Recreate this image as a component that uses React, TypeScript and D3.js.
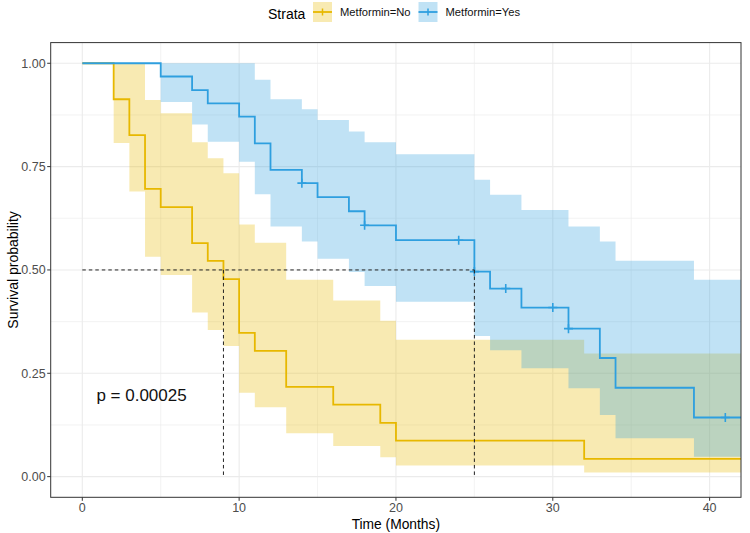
import React from "react";
import * as d3 from "d3";

// ---- Data ----
const strata = ["Metformin=No", "Metformin=Yes"];
const colors = ["#E7B800", "#2E9FDF"];

const noTimes = [0, 2, 3, 4, 5, 7, 8, 9, 10, 11, 13, 16, 19, 20, 32];
const noSurv = [1, 0.913, 0.826, 0.696, 0.652, 0.565, 0.522, 0.478, 0.348, 0.304, 0.217, 0.174, 0.13, 0.087, 0.043];
const noUpper = [1, 1, 1, 0.911, 0.879, 0.809, 0.77, 0.734, 0.61, 0.566, 0.476, 0.426, 0.377, 0.331, 0.298];
const noLower = [1, 0.807, 0.69, 0.532, 0.488, 0.397, 0.355, 0.316, 0.203, 0.168, 0.105, 0.074, 0.047, 0.027, 0.01];

const yesTimes = [0, 5, 7, 8, 10, 11, 12, 14, 15, 17, 18, 20, 25, 26, 28, 31, 33, 34, 39];
const yesSurv = [1, 0.968, 0.935, 0.903, 0.871, 0.806, 0.742, 0.71, 0.676, 0.642, 0.608, 0.572, 0.496, 0.455, 0.409, 0.358, 0.287, 0.215, 0.143];
const yesUpper = [1, 1, 1, 1, 1, 0.96, 0.913, 0.889, 0.863, 0.835, 0.809, 0.78, 0.718, 0.682, 0.645, 0.605, 0.569, 0.522, 0.476];
const yesLower = [1, 0.906, 0.852, 0.81, 0.762, 0.683, 0.605, 0.569, 0.527, 0.495, 0.461, 0.423, 0.34, 0.306, 0.262, 0.214, 0.149, 0.093, 0.048];

const yesCensorTimes = [14, 18, 24, 25, 27, 30, 31, 41];
const yesCensorSurv = [0.71, 0.608, 0.572, 0.496, 0.455, 0.409, 0.358, 0.143];

const medianTimes = [9, 25];
const endTime = 42;
const xTicks = [0, 10, 20, 30, 40];
const xMinor = [5, 15, 25, 35];
const yTicks = [0, 0.25, 0.5, 0.75, 1];
const yMinor = [0.125, 0.375, 0.625, 0.875];
const pValueLabel = "p = 0.00025";

// ---- Layout ----
const W = 750;
const H = 533;
const PL = 50.7, PR = 741, PT = 42.6, PB = 497.3;
const FONT = "'Liberation Sans', Arial, Helvetica, sans-serif";

type Pt = { t: number; s: number; lo: number; hi: number };

function build(times: number[], surv: number[], lo: number[], hi: number[]): Pt[] {
  const pts = times.map((t, i) => ({ t, s: surv[i], lo: lo[i], hi: hi[i] }));
  const last = pts[pts.length - 1];
  pts.push({ ...last, t: endTime });
  return pts;
}

export default function App() {
  const x = d3.scaleLinear().domain([-2.015, 42.0]).range([PL, PR]);
  const y = d3.scaleLinear().domain([-0.05, 1.05]).range([PB, PT]);

  const series = [
    build(noTimes, noSurv, noLower, noUpper),
    build(yesTimes, yesSurv, yesLower, yesUpper),
  ];

  const line = d3.line<Pt>().x((d) => x(d.t)).y((d) => y(d.s)).curve(d3.curveStepAfter);
  const area = d3
    .area<Pt>()
    .x((d) => x(d.t))
    .y0((d) => y(d.lo))
    .y1((d) => y(d.hi))
    .curve(d3.curveStepAfter);

  const grid = "#EBEBEB";
  const cross = 4.5;

  return (
    <svg
      width={W}
      height={H}
      style={{ position: "absolute", left: 0, top: 0, background: "#fff" }}
      fontFamily={FONT}
    >
      <rect x={0} y={0} width={W} height={H} fill="#fff" />
      <defs>
        <clipPath id="panel">
          <rect x={PL} y={PT} width={PR - PL} height={PB - PT} />
        </clipPath>
      </defs>

      {/* grid */}
      {xMinor.map((v) => (
        <line key={"xm" + v} x1={x(v)} x2={x(v)} y1={PT} y2={PB} stroke={grid} strokeWidth={0.6} />
      ))}
      {yMinor.map((v) => (
        <line key={"ym" + v} x1={PL} x2={PR} y1={y(v)} y2={y(v)} stroke={grid} strokeWidth={0.6} />
      ))}
      {xTicks.map((v) => (
        <line key={"xg" + v} x1={x(v)} x2={x(v)} y1={PT} y2={PB} stroke={grid} strokeWidth={1.1} />
      ))}
      {yTicks.map((v) => (
        <line key={"yg" + v} x1={PL} x2={PR} y1={y(v)} y2={y(v)} stroke={grid} strokeWidth={1.1} />
      ))}

      <g clipPath="url(#panel)">
        {series.map((pts, i) => (
          <path key={"a" + i} d={area(pts) || ""} fill={colors[i]} fillOpacity={0.3} stroke="none" />
        ))}
        {series.map((pts, i) => (
          <path key={"l" + i} d={line(pts) || ""} fill="none" stroke={colors[i]} strokeWidth={1.8} />
        ))}
        {yesCensorTimes.map((t, i) => (
          <g key={"c" + i} stroke={colors[1]} strokeWidth={1.6}>
            <line x1={x(t) - cross} x2={x(t) + cross} y1={y(yesCensorSurv[i])} y2={y(yesCensorSurv[i])} />
            <line x1={x(t)} x2={x(t)} y1={y(yesCensorSurv[i]) - cross} y2={y(yesCensorSurv[i]) + cross} />
          </g>
        ))}
        {/* median lines */}
        <line
          x1={x(0)}
          x2={x(d3.max(medianTimes) as number)}
          y1={y(0.5)}
          y2={y(0.5)}
          stroke="#222"
          strokeWidth={1}
          strokeDasharray="3.5,3"
        />
        {medianTimes.map((m) => (
          <line
            key={"m" + m}
            x1={x(m)}
            x2={x(m)}
            y1={y(0.5)}
            y2={y(0)}
            stroke="#222"
            strokeWidth={1}
            strokeDasharray="3.5,3"
          />
        ))}
      </g>

      {/* p value */}
      <text x={x(0.9)} y={y(0.182)} fontSize={17} fill="#111">
        {pValueLabel}
      </text>

      {/* panel border */}
      <rect x={PL} y={PT} width={PR - PL} height={PB - PT} fill="none" stroke="#333" strokeWidth={1} />

      {/* x axis */}
      {xTicks.map((v) => (
        <g key={"xt" + v}>
          <line x1={x(v)} x2={x(v)} y1={PB} y2={PB + 3.5} stroke="#333" strokeWidth={1} />
          <text x={x(v)} y={PB + 15} fontSize={12.5} fill="#4D4D4D" textAnchor="middle">
            {v}
          </text>
        </g>
      ))}
      <text x={(PL + PR) / 2} y={528.5} fontSize={13.8} fill="#000" textAnchor="middle">
        Time (Months)
      </text>

      {/* y axis */}
      {yTicks.map((v) => (
        <g key={"yt" + v}>
          <line x1={PL - 3.5} x2={PL} y1={y(v)} y2={y(v)} stroke="#333" strokeWidth={1} />
          <text x={PL - 5} y={y(v) + 4.3} fontSize={12.5} fill="#4D4D4D" textAnchor="end">
            {d3.format(".2f")(v)}
          </text>
        </g>
      ))}
      <text
        transform={`translate(18,${(PT + PB) / 2}) rotate(-90)`}
        fontSize={14}
        fill="#000"
        textAnchor="middle"
      >
        Survival probability
      </text>

      {/* legend */}
      <text x={268} y={18.5} fontSize={14} fill="#000">
        Strata
      </text>
      {strata.map((s, i) => {
        const kx = i === 0 ? 313 : 418.5;
        const ky = 2;
        return (
          <g key={"lg" + i}>
            <rect x={kx} y={ky} width={19} height={20} fill={colors[i]} fillOpacity={0.3} />
            <line x1={kx} x2={kx + 19} y1={ky + 10} y2={ky + 10} stroke={colors[i]} strokeWidth={1.8} />
            <line x1={kx + 9.5} x2={kx + 9.5} y1={ky + 6.5} y2={ky + 13.5} stroke={colors[i]} strokeWidth={1.5} />
            <text x={kx + 27} y={ky + 14} fontSize={11.2} fill="#111">
              {s}
            </text>
          </g>
        );
      })}
    </svg>
  );
}
